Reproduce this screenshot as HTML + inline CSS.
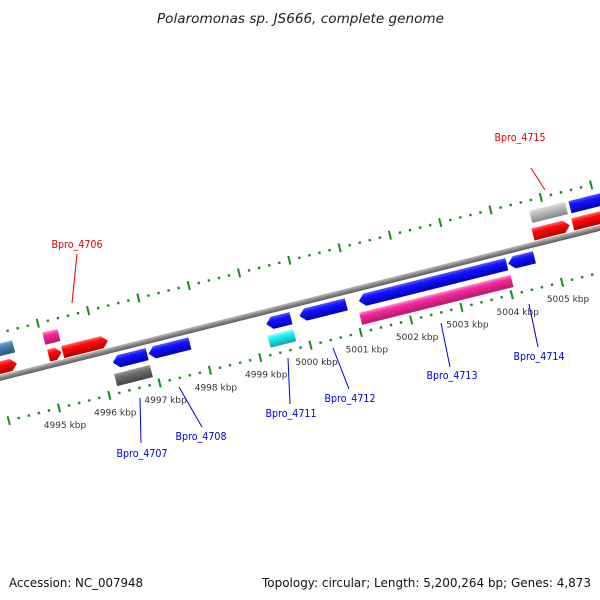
<!DOCTYPE html>
<html><head><meta charset="utf-8"><style>
body{margin:0;background:#fff}
svg{display:block}
text{font-family:"DejaVu Sans","Liberation Sans",sans-serif}
</style></head><body>
<svg id="map" width="600" height="600" viewBox="0 0 600 600" xmlns="http://www.w3.org/2000/svg">
<defs>
<linearGradient id="gBlue" x1="0" y1="0" x2="0" y2="1"><stop offset="0" stop-color="#5a5aff"/><stop offset="0.3" stop-color="#1414ff"/><stop offset="1" stop-color="#0000b8"/></linearGradient>
<linearGradient id="gRed" x1="0" y1="0" x2="0" y2="1"><stop offset="0" stop-color="#ff6a6a"/><stop offset="0.3" stop-color="#ff0a0a"/><stop offset="1" stop-color="#b80000"/></linearGradient>
<linearGradient id="gPink" x1="0" y1="0" x2="0" y2="1"><stop offset="0" stop-color="#ff8ccc"/><stop offset="0.3" stop-color="#f5289c"/><stop offset="1" stop-color="#b8186e"/></linearGradient>
<linearGradient id="gGrey" x1="0" y1="0" x2="0" y2="1"><stop offset="0" stop-color="#999"/><stop offset="0.3" stop-color="#707070"/><stop offset="1" stop-color="#444"/></linearGradient>
<linearGradient id="gLGrey" x1="0" y1="0" x2="0" y2="1"><stop offset="0" stop-color="#dcdcdc"/><stop offset="0.3" stop-color="#c0c0c0"/><stop offset="1" stop-color="#888"/></linearGradient>
<linearGradient id="gCyan" x1="0" y1="0" x2="0" y2="1"><stop offset="0" stop-color="#9ffafa"/><stop offset="0.3" stop-color="#16f5f5"/><stop offset="1" stop-color="#10a8a8"/></linearGradient>
<linearGradient id="gSteel" x1="0" y1="0" x2="0" y2="1"><stop offset="0" stop-color="#8ab4dc"/><stop offset="0.3" stop-color="#4682b4"/><stop offset="1" stop-color="#2c5a80"/></linearGradient>
<linearGradient id="gBack" x1="0" y1="0" x2="0" y2="1"><stop offset="0" stop-color="#bbb"/><stop offset="0.5" stop-color="#888"/><stop offset="1" stop-color="#555"/></linearGradient>
</defs>
<text x="157" y="23" textLength="287" lengthAdjust="spacingAndGlyphs" font-size="13" font-style="italic" fill="#222">Polaromonas sp. JS666, complete genome</text>
<g id="track" transform="translate(300,303) rotate(-14.04)"></g>
<g id="overlay"></g>
<text x="9" y="587" textLength="134" lengthAdjust="spacingAndGlyphs" font-size="12.5" fill="#111">Accession: NC_007948</text>
<text x="262" y="587" textLength="329" lengthAdjust="spacingAndGlyphs" font-size="12.5" fill="#111">Topology: circular; Length: 5,200,264 bp; Genes: 4,873</text>
</svg>
<script>
// feature data (kbp)
const featStart = [4993.8, 4995.04, 5004.72, 5005.50, 4993.8, 4995.05, 4995.33, 5004.68, 5005.47, 4996.22, 4996.93, 4999.27, 4999.93, 5001.11, 5004.08, 4996.19, 4999.24, 5001.06];
const featEnd   = [4994.44, 4995.34, 5005.43, 5006.6, 4994.42, 4995.31, 4996.23, 5005.41, 5006.6, 4996.90, 4997.75, 4999.76, 5000.86, 5004.05, 5004.60, 4996.90, 4999.75, 5004.07];
const featRow   = [0, 0, 0, 0, 1, 1, 1, 1, 1, 2, 2, 2, 2, 2, 2, 3, 3, 3];
const featDir   = [0, 0, 0, 0, 1, 1, 1, 1, 0, -1, -1, -1, -1, -1, -1, 0, 0, 0];
const featColor = ["gSteel","gPink","gLGrey","gBlue","gRed","gRed","gRed","gRed","gRed","gBlue","gBlue","gBlue","gBlue","gBlue","gBlue","gGrey","gCyan","gPink"];
const rowOffsets = [-27.5, -10, 12.5, 30];
// ruler
const rulerStart = 4993.6, rulerEnd = 5006.6;
const kbpLabels = [4995, 4996, 4997, 4998, 4999, 5000, 5001, 5002, 5003, 5004, 5005];
// gene labels
const geneNames  = ["Bpro_4715","Bpro_4706","Bpro_4707","Bpro_4708","Bpro_4711","Bpro_4712","Bpro_4713","Bpro_4714"];
const geneColors = ["#e00000","#e00000","#0000e0","#0000e0","#0000e0","#0000e0","#0000e0","#0000e0"];
const geneTextX  = [520, 77, 142, 201, 291, 350, 452, 539];
const geneTextY  = [141, 248, 457, 440, 417, 402, 379, 360];
const geneLine   = [[531,168,545,190],[77,254,72,303],[141,443,140,398],[202,427,179,387],[290,404,288,358],[349,389,333,348],[450,367,441,323],[538,347,529,304]];

const NS = "http://www.w3.org/2000/svg";
const KBP0 = 5000, PX = 51.85, H = 12.5, HEAD = 6;
const C = Math.cos(14.04*Math.PI/180), S = Math.sin(14.04*Math.PI/180);
function uOf(k){ return (k-KBP0)*PX; }
function scr(u,v){ return [300 + u*C + v*S, 303 - u*S + v*C]; }
const track = document.getElementById('track');
const overlay = document.getElementById('overlay');
function mk(tag, attrs, parent){ const e=document.createElementNS(NS,tag); for(const k in attrs) e.setAttribute(k,attrs[k]); parent.appendChild(e); return e; }

// backbone
const bb = mk('rect',{x:-420,y:-2.8,width:840,height:5.6,fill:'url(#gBack)'},track);



// rulers
[-44, 43.4].forEach((rv, ri)=>{
  const n = Math.round((rulerEnd-rulerStart)/0.2);
  for(let i=0;i<=n;i++){
    const k = rulerStart + i*0.2;
    const u = uOf(k);
    const major = Math.abs(k-Math.round(k))<0.01;
    const t = major ? mk('rect',{x:u-1,y:rv-4.5,width:2,height:9,fill:'#1a8a1a'},track)
                    : mk('rect',{x:u-1.2,y:rv-1.2,width:2.4,height:2.4,fill:'#1a8a1a'},track);
    
    
  }
});
kbpLabels.forEach(k=>{
  const p = scr(uOf(k), 43.4);
  const t = mk('text',{x:p[0]+6,y:p[1]+20,'text-anchor':'middle','font-size':'9',fill:'#333'},overlay);
  t.textContent = k + ' kbp';
  
  
});

// features
featStart.forEach((s,i)=>{
  const x1=uOf(s), x2=uOf(featEnd[i]), v=rowOffsets[featRow[i]];
  const t=v-H/2, b=v+H/2, d=featDir[i];
  let pts;
  if(d===1) pts=[[x1,t],[x2-HEAD,t],[x2,v],[x2-HEAD,b],[x1,b]];
  else if(d===-1) pts=[[x1+HEAD,t],[x2,t],[x2,b],[x1+HEAD,b],[x1,v]];
  else pts=[[x1,t],[x2,t],[x2,b],[x1,b]];
  const g = mk('polygon',{points:pts.map(p=>p.join(',')).join(' '),fill:'url(#'+featColor[i]+')'},track);
  
  
});

// gene labels
geneNames.forEach((nm,i)=>{
  const L=geneLine[i];
  const ln = mk('line',{x1:L[0],y1:L[1],x2:L[2],y2:L[3],stroke:geneColors[i],'stroke-width':'1'},overlay);
  
  
  const t = mk('text',{x:geneTextX[i]-25.5,y:geneTextY[i],textLength:'51',lengthAdjust:'spacingAndGlyphs','font-size':'11',fill:geneColors[i]},overlay);
  t.textContent = nm;
  
  
});
</script>
</body></html>
